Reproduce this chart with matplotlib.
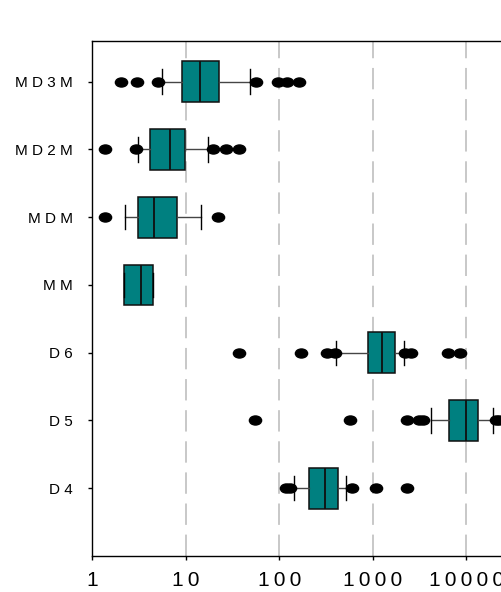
import matplotlib
matplotlib.use("Agg")
import matplotlib.pyplot as plt
import numpy as np
from matplotlib.path import Path
from matplotlib.transforms import Affine2D

# compounds, bottom to top
compounds = ["D4", "D5", "D6", "MM", "MDM", "MD2M", "MD3M"]

# five-number summaries per compound
whis_lo = [142, 4140, 405, 2.19, 2.21, 3.09, 5.58]
q1 = [208, 6550, 877, 2.19, 3.09, 4.15, 9.0]
median = [309, 9880, 1240, 3.30, 4.58, 6.74, 14.0]
q3 = [419, 13370, 1733, 4.47, 7.95, 9.69, 22.4]
whis_hi = [518, 19360, 2146, 4.47, 14.6, 17.3, 48.7]

# outlying values
outliers = [
    [119, 129, 596, 1084, 2330],
    [54.3, 572, 2290, 3130, 3400, 20500, 22500, 26000],
    [36.9, 170, 324, 392, 2200, 2550, 6300, 8500],
    [],
    [1.38, 21.8],
    [1.38, 2.92, 19.6, 27.0, 37.2],
    [2.0, 2.97, 4.98, 56, 97, 121, 163],
]

xticks = [1, 10, 100, 1000, 10000]

TEAL = "#008080"
FONT = ["Liberation Sans", "DejaVu Sans"]


def spaced(s, sep="\u2009"):
    return sep.join(s)


stats = []
for i, name in enumerate(compounds):
    stats.append(dict(label=spaced(name, " "), whislo=whis_lo[i], q1=q1[i],
                      med=median[i], q3=q3[i], whishi=whis_hi[i],
                      fliers=outliers[i]))

# flattened ellipse for the outlier markers
ellipse = Path.unit_circle().transformed(Affine2D().scale(1.35, 1.0))

fig = plt.figure(figsize=(5.02, 5.92), dpi=100)
ax = fig.add_axes([0.184, 0.0608, 0.816, 0.8699])

ax.bxp(stats, positions=np.arange(1, len(compounds) + 1), vert=False,
       widths=0.6, patch_artist=True,
       boxprops=dict(facecolor=TEAL, edgecolor="#101010", linewidth=1.1),
       medianprops=dict(color="#101010", linewidth=1.3),
       whiskerprops=dict(color="#454545", linewidth=1.0),
       capprops=dict(color="black", linewidth=1.0),
       capwidths=0.36,
       flierprops=dict(marker=ellipse, markersize=8.8, markerfacecolor="black",
                       markeredgecolor="black", linestyle="none"))

ax.set_xscale("log")
ax.set_xlim(1, 10 ** ((502 - 92.5) / 93.5))
ax.set_ylim(0, 7.6)

for v in xticks[1:]:
    ax.axvline(v, color="#c8c8c8", linewidth=1.4, linestyle=(0, (11, 5)), zorder=0)

ax.set_xticks(xticks)
ax.set_xticklabels([spaced(str(v)) for v in xticks], family=FONT, fontsize=15)
ax.xaxis.set_minor_locator(matplotlib.ticker.NullLocator())
for lab in ax.get_yticklabels():
    lab.set_family(FONT)
    lab.set_fontsize(11)

ax.tick_params(axis="x", direction="out", length=3, width=1, pad=8, colors="black")
ax.tick_params(axis="y", direction="out", length=3, width=1, pad=11, colors="black")

ax.spines["right"].set_visible(False)
for side in ("left", "top", "bottom"):
    ax.spines[side].set_linewidth(1.0)
    ax.spines[side].set_color("black")

fig.savefig("out.png", dpi=100)
